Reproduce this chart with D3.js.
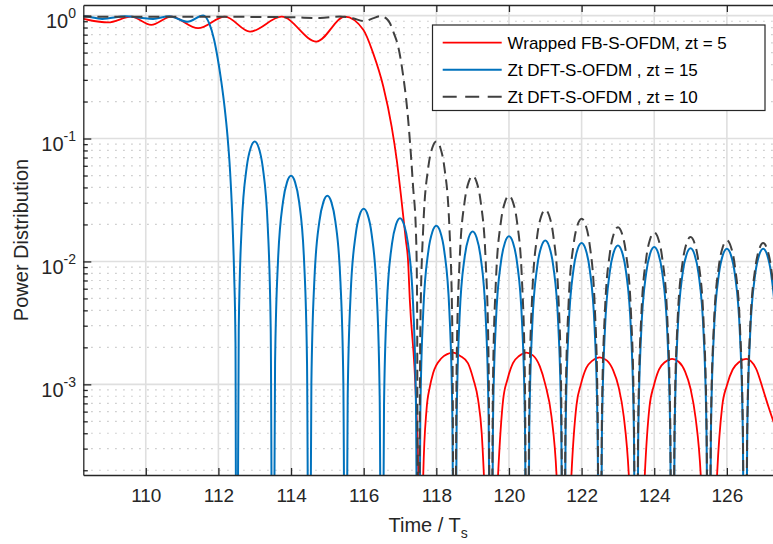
<!DOCTYPE html>
<html>
<head>
<meta charset="utf-8">
<script src="https://cdn.jsdelivr.net/npm/d3@7"></script>
<style>
  body { margin: 0; background: #fff; }
  svg { display: block; font-family: "Liberation Sans", Arial, sans-serif; }
</style>
</head>
<body>
<svg id="chart" width="773" height="544"></svg>
<script>
// ── Axis limits and ticks ──
const xDomain = [108.28, 127.27];
const yDomain = [1.83e-4, 1.22];
const xTicks = [110, 112, 114, 116, 118, 120, 122, 124, 126];
const yTickExps = [0, -1, -2, -3];

const legendLabels = [
  "Wrapped FB-S-OFDM, zt = 5",
  "Zt DFT-S-OFDM , zt = 15",
  "Zt DFT-S-OFDM , zt = 10",
];

// ── Series as [time, power] ──
// Wrapped FB-S-OFDM, zt = 5
const redPts = [
  [108.20, 0.95], [108.28, 0.94], [108.96, 0.88], [109.60, 0.98], [110.15, 0.84],
  [110.70, 0.98], [111.44, 0.79], [112.18, 0.98], [112.87, 0.74], [113.74, 0.98],
  [114.70, 0.615], [115.48, 0.98], [115.99, 0.766], [116.26, 0.495], [116.54, 0.265],
  [116.77, 0.125], [116.91, 0.067], [117.04, 0.0317], [117.16, 0.015], [117.22, 0.0103],
  [117.27, 0.00487], [117.44, 0.00075], [117.50, 0.0002], [117.55, 1e-6],
  [117.60, 3.6e-5], [117.64, 1.83e-4], [117.73, 6.2e-4], [117.82, 9.5e-4], [117.91, 1.23e-3],
  [118.14, 1.63e-3], [118.30, 1.76e-3], [118.46, 1.81e-3], [118.66, 1.70e-3], [118.87, 1.49e-3],
  [119.02, 1.10e-3], [119.15, 7.5e-4], [119.25, 4.0e-4], [119.31, 1.83e-4], [119.40, 3.6e-5],
  [119.50, 1e-6],
  [119.60, 3.6e-5], [119.70, 1.83e-4], [119.84, 7.5e-4], [119.96, 1.10e-3], [120.11, 1.49e-3],
  [120.28, 1.70e-3], [120.48, 1.81e-3], [120.66, 1.72e-3], [120.85, 1.40e-3], [121.00, 1.0e-3],
  [121.17, 5.5e-4], [121.31, 1.83e-4], [121.40, 3.6e-5], [121.50, 1e-6],
  [121.62, 3.3e-5], [121.72, 1.83e-4], [121.86, 6.8e-4], [121.98, 1.0e-3], [122.13, 1.36e-3],
  [122.30, 1.56e-3], [122.50, 1.66e-3], [122.70, 1.56e-3], [122.87, 1.30e-3], [123.02, 9.5e-4],
  [123.16, 5.5e-4], [123.30, 1.83e-4], [123.40, 3.3e-5], [123.52, 1e-6],
  [123.64, 3.2e-5], [123.74, 1.83e-4], [123.87, 6.6e-4], [123.99, 9.8e-4], [124.13, 1.32e-3],
  [124.30, 1.52e-3], [124.49, 1.61e-3], [124.68, 1.52e-3], [124.85, 1.27e-3], [125.00, 9.2e-4],
  [125.14, 5.3e-4], [125.28, 1.83e-4], [125.38, 3.2e-5], [125.50, 1e-6],
  [125.63, 3.2e-5], [125.73, 1.83e-4], [125.87, 6.6e-4], [126.00, 9.8e-4], [126.16, 1.32e-3],
  [126.34, 1.52e-3], [126.53, 1.61e-3], [126.80, 1.35e-3], [127.00, 9.0e-4], [127.15, 6.5e-4],
  [127.30, 4.8e-4],
];

// Zt DFT-S-OFDM, zt = 15
const bluePts = [
  [108.20, 0.99], [108.28, 0.99], [108.80, 0.94], [109.45, 0.99], [109.90, 0.955],
  [110.20, 0.94], [110.65, 0.99], [111.15, 0.89], [111.58, 1.0], [111.75, 0.86],
  [111.88, 0.64], [111.98, 0.45], [112.08, 0.29], [112.17, 0.18], [112.25, 0.105],
  [112.32, 0.055], [112.38, 0.024], [112.43, 0.0085], [112.47, 0.0022], [112.50, 1e-6],
  [112.56, 0.00284], [112.64, 0.0189], [112.78, 0.0587], [112.89, 0.0842], [113.00, 0.0946],
  [113.11, 0.0842], [113.22, 0.0587], [113.36, 0.0189], [113.44, 0.00284], [113.50, 1e-6],
  [113.56, 0.00149], [113.64, 0.00994], [113.78, 0.0308], [113.89, 0.0442], [114.00, 0.0497],
  [114.11, 0.0442], [114.22, 0.0308], [114.36, 0.00994], [114.44, 0.00149], [114.50, 1e-6],
  [114.56, 0.00103], [114.64, 0.00684], [114.78, 0.0212], [114.89, 0.0304], [115.00, 0.0342],
  [115.11, 0.0304], [115.22, 0.0212], [115.36, 0.00684], [115.44, 0.00103], [115.50, 1e-6],
  [115.56, 0.000804], [115.64, 0.00536], [115.78, 0.0166], [115.89, 0.0239], [116.00, 0.0268],
  [116.11, 0.0239], [116.22, 0.0166], [116.36, 0.00536], [116.44, 0.000804], [116.50, 1e-6],
  [116.56, 0.000675], [116.64, 0.0045], [116.78, 0.01395], [116.89, 0.0200], [117.00, 0.0225],
  [117.11, 0.0200], [117.22, 0.01395], [117.36, 0.0045], [117.44, 0.000675], [117.50, 1e-6],
  [117.56, 0.000585], [117.64, 0.0039], [117.78, 0.0121], [117.89, 0.01736], [118.00, 0.0195],
  [118.11, 0.01736], [118.22, 0.0121], [118.36, 0.0039], [118.44, 0.000585], [118.50, 1e-6],
  [118.56, 0.000525], [118.64, 0.0035], [118.78, 0.01085], [118.89, 0.01558], [119.00, 0.0175],
  [119.11, 0.01558], [119.22, 0.01085], [119.36, 0.0035], [119.44, 0.000525], [119.50, 1e-6],
  [119.56, 0.00048], [119.64, 0.0032], [119.78, 0.00992], [119.89, 0.01424], [120.00, 0.0160],
  [120.11, 0.01424], [120.22, 0.00992], [120.36, 0.0032], [120.44, 0.00048], [120.50, 1e-6],
  [120.56, 0.000444], [120.64, 0.00296], [120.78, 0.00918], [120.89, 0.01317], [121.00, 0.0148],
  [121.11, 0.01317], [121.22, 0.00918], [121.36, 0.00296], [121.44, 0.000444], [121.50, 1e-6],
  [121.56, 0.000423], [121.64, 0.00282], [121.78, 0.00874], [121.89, 0.01255], [122.00, 0.0141],
  [122.11, 0.01255], [122.22, 0.00874], [122.36, 0.00282], [122.44, 0.000423], [122.50, 1e-6],
  [122.56, 0.000405], [122.64, 0.0027], [122.78, 0.00837], [122.89, 0.01202], [123.00, 0.0135],
  [123.11, 0.01202], [123.22, 0.00837], [123.36, 0.0027], [123.44, 0.000405], [123.50, 1e-6],
  [123.56, 0.000393], [123.64, 0.00262], [123.78, 0.00812], [123.89, 0.01166], [124.00, 0.0131],
  [124.11, 0.01166], [124.22, 0.00812], [124.36, 0.00262], [124.44, 0.000393], [124.50, 1e-6],
  [124.56, 0.000384], [124.64, 0.00256], [124.78, 0.00794], [124.89, 0.01139], [125.00, 0.0128],
  [125.11, 0.01139], [125.22, 0.00794], [125.36, 0.00256], [125.44, 0.000384], [125.50, 1e-6],
  [125.56, 0.000381], [125.64, 0.00254], [125.78, 0.00787], [125.89, 0.0113], [126.00, 0.0127],
  [126.11, 0.0113], [126.22, 0.00787], [126.36, 0.00254], [126.44, 0.000381], [126.50, 1e-6],
  [126.56, 0.000381], [126.64, 0.00254], [126.78, 0.00787], [126.89, 0.0113], [127.00, 0.0127],
  [127.11, 0.0113], [127.22, 0.00787], [127.36, 0.00254], [127.44, 0.000381],
];

// Zt DFT-S-OFDM, zt = 10
const dashPts = [
  [108.20, 0.98], [109.00, 0.98], [110.00, 0.98], [111.00, 0.98], [112.00, 0.98],
  [113.00, 0.975], [114.00, 0.97], [114.80, 0.955], [115.35, 0.985], [115.70, 0.95],
  [116.03, 0.90], [116.25, 0.95], [116.47, 0.99], [116.62, 0.95], [116.72, 0.87],
  [116.83, 0.72], [116.95, 0.56], [117.09, 0.32], [117.20, 0.171], [117.27, 0.0976],
  [117.36, 0.0407], [117.44, 0.017], [117.47, 0.005], [117.50, 1e-6],
  [117.56, 0.00284], [117.64, 0.0189], [117.78, 0.0587], [117.89, 0.0842], [118.00, 0.0946],
  [118.11, 0.0842], [118.22, 0.0587], [118.36, 0.0189], [118.44, 0.00284], [118.50, 1e-6],
  [118.56, 0.00149], [118.64, 0.00994], [118.78, 0.0308], [118.89, 0.0442], [119.00, 0.0497],
  [119.11, 0.0442], [119.22, 0.0308], [119.36, 0.00994], [119.44, 0.00149], [119.50, 1e-6],
  [119.56, 0.00103], [119.64, 0.00684], [119.78, 0.0212], [119.89, 0.0304], [120.00, 0.0342],
  [120.11, 0.0304], [120.22, 0.0212], [120.36, 0.00684], [120.44, 0.00103], [120.50, 1e-6],
  [120.56, 0.000789], [120.64, 0.00526], [120.78, 0.0163], [120.89, 0.0234], [121.00, 0.0263],
  [121.11, 0.0234], [121.22, 0.0163], [121.36, 0.00526], [121.44, 0.000789], [121.50, 1e-6],
  [121.56, 0.000669], [121.64, 0.00446], [121.78, 0.01383], [121.89, 0.01985], [122.00, 0.0223],
  [122.11, 0.01985], [122.22, 0.01383], [122.36, 0.00446], [122.44, 0.000669], [122.50, 1e-6],
  [122.56, 0.00057], [122.64, 0.0038], [122.78, 0.01178], [122.89, 0.01691], [123.00, 0.0190],
  [123.11, 0.01691], [123.22, 0.01178], [123.36, 0.0038], [123.44, 0.00057], [123.50, 1e-6],
  [123.56, 0.000516], [123.64, 0.00344], [123.78, 0.01066], [123.89, 0.01531], [124.00, 0.0172],
  [124.11, 0.01531], [124.22, 0.01066], [124.36, 0.00344], [124.44, 0.000516], [124.50, 1e-6],
  [124.56, 0.000474], [124.64, 0.00316], [124.78, 0.0098], [124.89, 0.01406], [125.00, 0.0158],
  [125.11, 0.01406], [125.22, 0.0098], [125.36, 0.00316], [125.44, 0.000474], [125.50, 1e-6],
  [125.56, 0.000444], [125.64, 0.00296], [125.78, 0.00918], [125.89, 0.01317], [126.00, 0.0148],
  [126.11, 0.01317], [126.22, 0.00918], [126.36, 0.00296], [126.44, 0.000444], [126.50, 1e-6],
  [126.56, 0.000423], [126.64, 0.00282], [126.78, 0.00874], [126.89, 0.01255], [127.00, 0.0141],
  [127.11, 0.01255], [127.22, 0.00874], [127.36, 0.00282], [127.44, 0.000423],
];

// ── Layout ──
const plot = { left: 83.3, right: 773, top: 5, bottom: 475 };
const axisColor = "#262626";
const seriesStyle = [
  { color: "#ff0000", width: 1.8, dash: null },
  { color: "#0072bd", width: 2, dash: null },
  { color: "#404040", width: 2, dash: "11,6" },
];

const svg = d3.select("#chart");
const x = d3.scaleLinear().domain(xDomain).range([plot.left, plot.right]);
const y = d3.scaleLog().domain(yDomain).range([plot.bottom, plot.top]);

const majorY = yTickExps.map((e) => Math.pow(10, e));
const minorY = y.ticks().filter((v) => !majorY.some((m) => Math.abs(v / m - 1) < 1e-9));

// ── Grid ──
const grid = svg.append("g");
grid.selectAll("line.minor")
  .data(minorY)
  .join("line")
  .attr("x1", plot.left).attr("x2", plot.right)
  .attr("y1", (d) => y(d)).attr("y2", (d) => y(d))
  .attr("stroke", "#bdbdbd")
  .attr("stroke-width", 1.2)
  .attr("stroke-dasharray", "1.3,6.7");

grid.selectAll("line.majy")
  .data(majorY)
  .join("line")
  .attr("x1", plot.left).attr("x2", plot.right)
  .attr("y1", (d) => y(d)).attr("y2", (d) => y(d))
  .attr("stroke", "#dfdfdf")
  .attr("stroke-width", 1.6);

grid.selectAll("line.majx")
  .data(xTicks)
  .join("line")
  .attr("x1", (d) => x(d)).attr("x2", (d) => x(d))
  .attr("y1", plot.top).attr("y2", plot.bottom)
  .attr("stroke", "#dfdfdf")
  .attr("stroke-width", 1.6);

// ── Series ──
svg.append("clipPath").attr("id", "clip")
  .append("rect")
  .attr("x", plot.left).attr("y", plot.top)
  .attr("width", plot.right - plot.left).attr("height", plot.bottom - plot.top);

const line = d3.line()
  .x((d) => x(d[0]))
  .y((d) => y(d[1]))
  .curve(d3.curveMonotoneX);

const series = [redPts, bluePts, dashPts];
const lines = svg.append("g").attr("clip-path", "url(#clip)");
series.forEach((pts, i) => {
  const s = seriesStyle[i];
  lines.append("path")
    .datum(pts)
    .attr("d", line)
    .attr("fill", "none")
    .attr("stroke", s.color)
    .attr("stroke-width", s.width)
    .attr("stroke-dasharray", s.dash)
    .attr("stroke-linejoin", "round");
});

// ── Axes ──
const bottomAxis = svg.append("g")
  .attr("transform", `translate(0,${plot.bottom})`)
  .call(d3.axisBottom(x).tickValues(xTicks).tickSize(-7).tickSizeOuter(0).tickPadding(14));

const topAxis = svg.append("g")
  .attr("transform", `translate(0,${plot.top})`)
  .call(d3.axisTop(x).tickValues(xTicks).tickSize(-7).tickSizeOuter(0).tickFormat(""));

const leftAxis = svg.append("g")
  .attr("transform", `translate(${plot.left},0)`)
  .call(d3.axisLeft(y).tickValues(majorY).tickSize(-8).tickSizeOuter(0).tickFormat(""));

const leftMinor = svg.append("g")
  .attr("transform", `translate(${plot.left},0)`)
  .call(d3.axisLeft(y).tickValues(minorY).tickSize(-4.5).tickSizeOuter(0).tickFormat(""));
leftMinor.select(".domain").remove();

[bottomAxis, topAxis, leftAxis, leftMinor].forEach((g) => {
  g.attr("color", axisColor);
  g.selectAll("path, line").attr("stroke-width", 1.3);
});
bottomAxis.selectAll("text")
  .attr("font-size", 19)
  .attr("font-family", "Liberation Sans, Arial, sans-serif")
  .attr("fill", axisColor);

// y tick labels as 10^k
const yLabels = svg.append("g")
  .attr("font-size", 20)
  .attr("fill", axisColor);
yLabels.selectAll("text")
  .data(yTickExps)
  .join("text")
  .attr("x", 76)
  .attr("y", (d) => y(Math.pow(10, d)) + 12.5)
  .attr("text-anchor", "end")
  .each(function (d) {
    const t = d3.select(this);
    t.append("tspan").text("10");
    t.append("tspan").attr("font-size", 14).attr("dy", -10).text(String(d));
  });

// Axis titles
const xTitle = svg.append("text")
  .attr("x", (plot.left + plot.right) / 2)
  .attr("y", 532)
  .attr("text-anchor", "middle")
  .attr("font-size", 20)
  .attr("fill", axisColor);
xTitle.append("tspan").text("Time / T");
xTitle.append("tspan").attr("font-size", 14).attr("dy", 6).text("s");

svg.append("text")
  .attr("transform", `translate(28,${(plot.top + plot.bottom) / 2}) rotate(-90)`)
  .attr("text-anchor", "middle")
  .attr("font-size", 20)
  .attr("fill", axisColor)
  .text("Power Distribution");

// ── Legend ──
const legend = svg.append("g");
legend.append("rect")
  .attr("x", 432.5).attr("y", 25)
  .attr("width", 332.5).attr("height", 85.5)
  .attr("fill", "#fff")
  .attr("stroke", axisColor)
  .attr("stroke-width", 1.2);

legendLabels.forEach((label, i) => {
  const s = seriesStyle[i];
  const cy = 42.7 + i * 27;
  legend.append("line")
    .attr("x1", 442.7).attr("x2", 501.7)
    .attr("y1", cy).attr("y2", cy)
    .attr("stroke", s.color)
    .attr("stroke-width", s.width)
    .attr("stroke-dasharray", s.dash ? "14,8.5" : null);
  legend.append("text")
    .attr("x", 507.5)
    .attr("y", cy + 6)
    .attr("font-size", 17)
    .attr("fill", "#000")
    .text(label);
});
</script>
</body>
</html>
